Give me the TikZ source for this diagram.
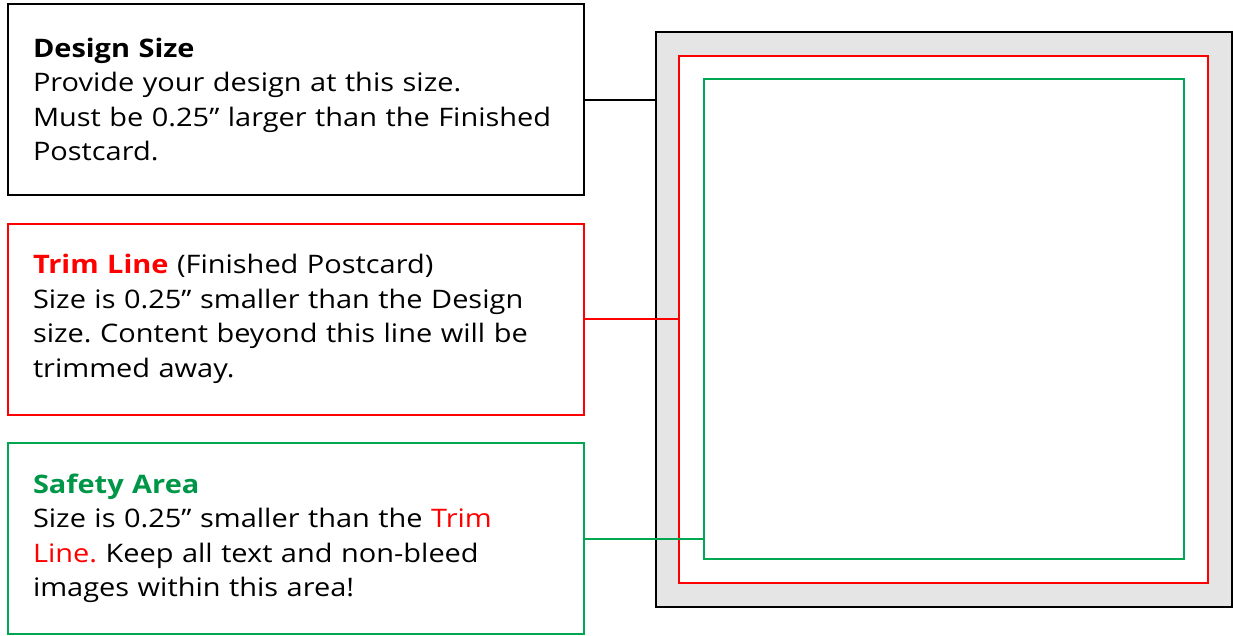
\documentclass[tikz,border=0pt]{standalone}
\usepackage{fontspec}
\setmainfont[FakeStretch=1.135]{Open Sans}
\frenchspacing
\definecolor{trimred}{RGB}{255,0,0}
\definecolor{safegreen}{RGB}{0,166,81}
\definecolor{headgreen}{RGB}{0,150,72}
\definecolor{bleedgray}{RGB}{229,229,229}
\newcommand\myboxfont{\fontsize{25.5}{34.5}\selectfont\frenchspacing\spaceskip=9.3pt plus 3pt minus 1pt\relax}
\begin{document}
\begin{tikzpicture}[x=1pt,y=-1pt,
  infobox/.style={draw, line width=2pt, minimum width=576pt, minimum height=191pt,
    inner xsep=25pt, inner ysep=0pt, text width=526pt, align=left,
    font=\myboxfont},
  framebox/.style={minimum width=#1, minimum height=#1, inner sep=0pt},
]
\useasboundingbox (0,0) rectangle (1233,635);
% right-hand sketch
\node[framebox=575pt, minimum width=576pt, draw=black, line width=2.5pt, fill=bleedgray] (gray) at (944,319.5) {};
\node[framebox=527pt, minimum width=529pt, draw=trimred, fill=white, line width=2pt] (red) at (943.5,319.5) {};
\node[framebox=480pt, draw=safegreen, line width=2pt] (green) at (944,319) {};
% text boxes
\node[infobox, draw=black, line width=2.5pt] (design) at (296,99.5)
  {\textbf{Design Size}\\Provide your design at this size.\\Must be 0.25” larger than the Finished\\Postcard.};
\node[infobox, draw=trimred] (trim) at (296,319)
  {\textcolor{trimred}{\textbf{Trim Line}} (Finished Postcard)\\Size is 0.25” smaller than the Design\\size. Content beyond this line will be\\trimmed away.};
\node[infobox, draw=safegreen] (safety) at (296,538.5)
  {\textcolor{headgreen}{\textbf{Safety Area}}\\Size is 0.25” smaller than the \textcolor{trimred}{Trim}\\\textcolor{trimred}{Line.} Keep all text and non-bleed\\images within this area!};
% connectors
\draw[line width=2pt, black] (design.east) -- (design.east -| gray.west);
\draw[line width=2pt, trimred] (trim.east) -- (trim.east -| red.west);
\draw[line width=2pt, safegreen] (safety.east) -- (safety.east -| green.west);
\end{tikzpicture}
\end{document}
